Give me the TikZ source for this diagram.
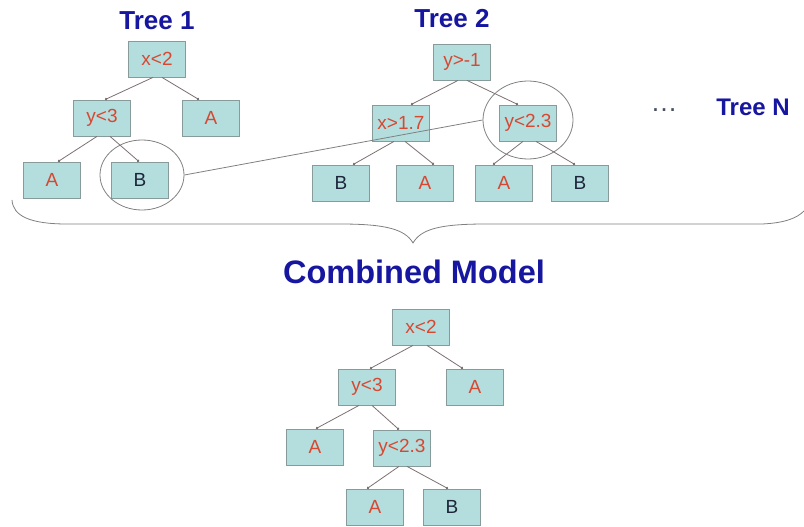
\documentclass[tikz,border=0pt]{standalone}
\usepackage{fontspec}
\setmainfont{Liberation Sans}
\usetikzlibrary{arrows.meta,shapes.geometric}
\definecolor{boxfill}{RGB}{180,222,222}
\definecolor{boxborder}{RGB}{135,155,155}
\definecolor{condred}{RGB}{214,72,50}
\definecolor{leafdark}{RGB}{28,38,58}
\definecolor{titleblue}{RGB}{22,22,160}
\definecolor{edgegray}{RGB}{125,112,112}
\definecolor{ringgray}{RGB}{128,128,128}
\tikzset{
  treebox/.style={draw=boxborder, line width=0.8pt, fill=boxfill, minimum width=57pt, minimum height=36pt, inner sep=0pt, font=\fontsize{19}{19}\selectfont, text=condred},
  leafb/.style={treebox, text=leafdark},
  treetitle/.style={font=\bfseries\fontsize{26}{26}\selectfont, text=titleblue, inner sep=0pt},
  bigtitle/.style={font=\bfseries\fontsize{32.5}{32.5}\selectfont, text=titleblue, inner sep=0pt},
  tedge/.style={draw=edgegray, line width=0.8pt, -{Circle[length=2.5pt]}},
  ring/.style={draw=ringgray, line width=0.8pt},
}
\begin{document}
\begin{tikzpicture}[x=1pt, y=-1pt]
\useasboundingbox (0,0) rectangle (804,527);

% ---------- Tree 1 ----------
\node[treetitle] (t1) at (157,21) {Tree 1};
\node[treebox] (a0) at (157,59) {x<2};
\node[treebox] (a1) at (102,118) {y<3};
\node[treebox] (a2) at (211,118) {A};
\node[treebox] (a3) at (52,180) {A};
\node[leafb]   (a4) at (140,180) {B};
\draw[tedge] ([xshift=-4pt]a0.south) -- ([xshift=3pt]a1.north);
\draw[tedge] ([xshift=5pt]a0.south) -- ([xshift=-12pt]a2.north);
\draw[tedge] ([xshift=-5pt]a1.south) -- ([xshift=6pt]a3.north);
\draw[tedge] ([xshift=8pt]a1.south) -- ([xshift=-1pt]a4.north);
\node[ring, ellipse, minimum width=84pt, minimum height=70pt, inner sep=0pt] (e1) at (142,175) {};

% ---------- Tree 2 ----------
\node[treetitle] (t2) at (452,19) {Tree 2};
\node[treebox] (b0) at (462,62) {y>-1};
\node[treebox] (b1) at (401,123) {x>1.7};
\node[treebox] (b2) at (528,123) {y<2.3};
\node[leafb]   (b3) at (341,183) {B};
\node[treebox] (b4) at (425,183) {A};
\node[treebox] (b5) at (504,183) {A};
\node[leafb]   (b6) at (580,183) {B};
\draw[tedge] ([xshift=-4pt]b0.south) -- ([xshift=10pt]b1.north);
\draw[tedge] ([xshift=5pt]b0.south) -- ([xshift=-10pt]b2.north);
\draw[tedge] ([xshift=-7pt]b1.south) -- ([xshift=12pt]b3.north);
\draw[tedge] ([xshift=4pt]b1.south) -- ([xshift=9pt]b4.north);
\draw[tedge] ([xshift=-5pt]b2.south) -- ([xshift=-11pt]b5.north);
\draw[tedge] ([xshift=8pt]b2.south) -- ([xshift=-5pt]b6.north);
\node[ring, ellipse, minimum width=90pt, minimum height=78pt, inner sep=0pt] (e2) at (528,120) {};

% link between the two circled nodes
\draw[ring] (e1.east) -- (e2.west);

% ---------- Tree N ----------
\node[font=\fontsize{27}{27}\selectfont, text=leafdark!80, inner sep=0pt, anchor=base] (dots) at (664,112) {…};
\node[treetitle, font=\bfseries\fontsize{24}{24}\selectfont] (tN) at (753,107) {Tree N};

% ---------- brace ----------
\coordinate (brL) at (12,200);
\coordinate (brTip) at (413,243);
\coordinate (brR) at (804,211);
\draw[ring] (brL) .. controls (13,216) and (30,224) .. (67,224)
  -- (340,224) .. controls (385,224) and (405,229) .. (brTip)
  .. controls (421,229) and (440,224) .. (486,224)
  -- (762,224) .. controls (785,223) and (797,218) .. (brR);

% ---------- Combined model ----------
\node[bigtitle] (cm) at (414,272) {Combined Model};
\node[treebox] (c0) at (421,327) {x<2};
\node[treebox] (c1) at (367,387) {y<3};
\node[treebox] (c2) at (475,387) {A};
\node[treebox] (c3) at (315,447) {A};
\node[treebox] (c4) at (402,448) {y<2.3};
\node[treebox] (c5) at (375,507) {A};
\node[leafb]   (c6) at (452,507) {B};
\draw[tedge] ([xshift=-8pt]c0.south) -- ([xshift=3pt]c1.north);
\draw[tedge] ([xshift=6pt]c0.south) -- ([xshift=-12pt]c2.north);
\draw[tedge] ([xshift=-8pt]c1.south) -- ([xshift=1pt]c3.north);
\draw[tedge] ([xshift=5pt]c1.south) -- ([xshift=-3pt]c4.north);
\draw[tedge] ([xshift=-3pt]c4.south) -- ([xshift=-8pt]c5.north);
\draw[tedge] ([xshift=5pt]c4.south) -- ([xshift=-4pt]c6.north);
\end{tikzpicture}
\end{document}
